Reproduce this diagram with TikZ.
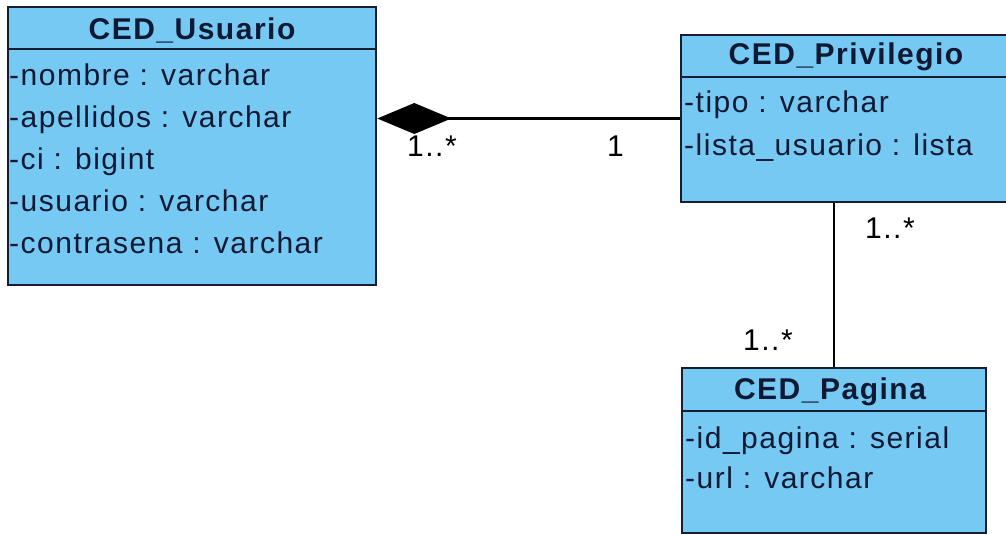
\documentclass[tikz,border=0pt]{standalone}
\usepackage{fontspec}
\setmainfont{Liberation Sans}[LetterSpace=5]
\usetikzlibrary{arrows.meta}

\definecolor{umlblue}{RGB}{118,201,242}
\definecolor{umlline}{RGB}{22,30,48}
\definecolor{umltext}{RGB}{15,25,52}

\tikzset{
  classbox/.style={rectangle, draw=umlline, fill=umlblue, line width=2.6pt, inner sep=0pt},
  classtitle/.style={inner sep=0pt, anchor=base, text=umltext,
    font=\fontsize{30}{36}\selectfont\bfseries},
  attr/.style={inner sep=0pt, anchor=base west, text=umltext,
    font=\fontsize{30}{36}\selectfont},
  mult/.style={inner sep=0pt, anchor=base west, text=black,
    font=\fontsize{30}{36}\selectfont},
  divider/.style={draw=umlline, line width=2.4pt},
  assoc/.style={draw=black, line width=2.4pt},
}

\begin{document}
\begin{tikzpicture}[x=1pt, y=-1pt]
  \useasboundingbox (0,0) rectangle (1006,535);
  \fill[white] (0,0) rectangle (1006,535);
  \clip (0,0) rectangle (1006,535);

  % class boxes
  \node[classbox, minimum width=368pt, minimum height=278pt] (usu) at (192,146) {};
  \node[classbox, minimum width=339pt, minimum height=167pt] (priv) at (850.5,118.5) {};
  \node[classbox, minimum width=304pt, minimum height=165pt] (pag) at (834,450.5) {};

  % compartment dividers
  \coordinate (usuD) at (0,49);
  \coordinate (privD) at (0,77);
  \coordinate (pagD) at (0,411);
  \draw[divider] (usu.west |- usuD) -- (usu.east |- usuD);
  \draw[divider] (priv.west |- privD) -- (priv.east |- privD);
  \draw[divider] (pag.west |- pagD) -- (pag.east |- pagD);

  % titles
  \node[classtitle] (usuT) at (192,40) {CED\_Usuario};
  \node[classtitle] (privT) at (846,65) {CED\_Privilegio};
  \node[classtitle] (pagT) at (830,399) {CED\_Pagina};

  % attributes
  \node[attr] (u1) at (9,85) {-nombre : varchar};
  \node[attr] (u2) at (9,127) {-apellidos : varchar};
  \node[attr] (u3) at (9,169) {-ci : bigint};
  \node[attr] (u4) at (9,211) {-usuario : varchar};
  \node[attr] (u5) at (9,253) {-contrasena : varchar};

  \node[attr] (p1) at (684,112) {-tipo : varchar};
  \node[attr] (p2) at (684,155) {-lista\_usuario : lista};

  \node[attr] (g1) at (685,448) {-id\_pagina : serial};
  \node[attr] (g2) at (685,488) {-url : varchar};

  % associations
  \draw[assoc, {Diamond[length=74pt, width=31pt]}-] (usu.east |- priv.west) -- (priv.west);
  \draw[assoc] (priv.south -| pag.north) -- (pag.north);

  % multiplicities
  \node[mult] (m1) at (407,156) {1..*};
  \node[mult] (m2) at (607,156) {1};
  \node[mult] (m3) at (865,238) {1..*};
  \node[mult] (m4) at (743,350) {1..*};
\end{tikzpicture}
\end{document}
